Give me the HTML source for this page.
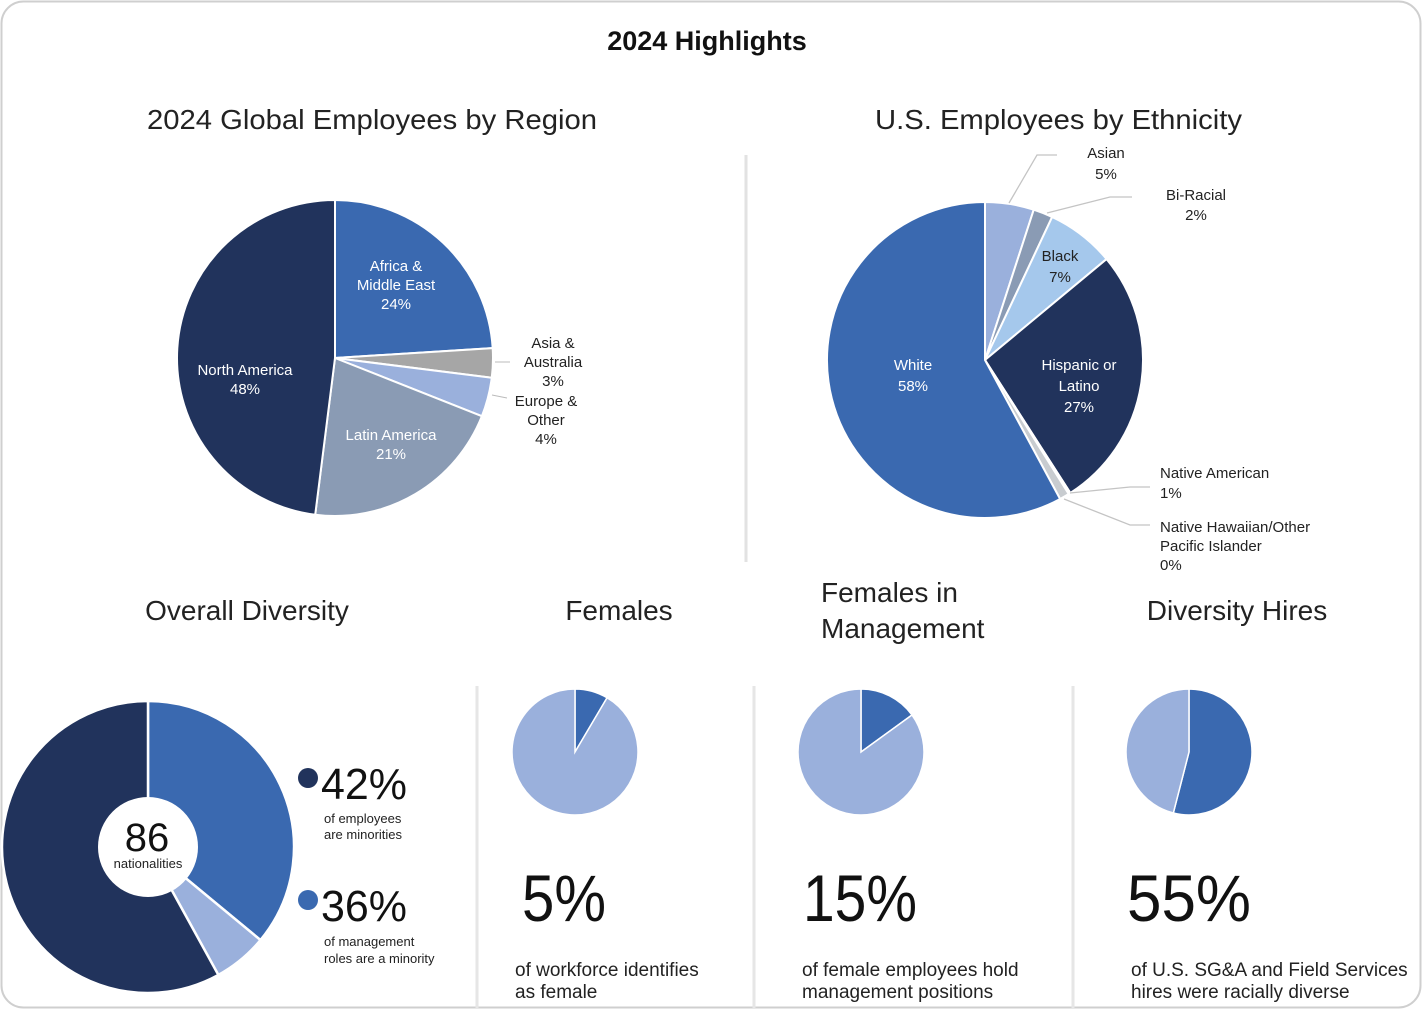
<!DOCTYPE html>
<html><head><meta charset="utf-8"><style>
html,body{margin:0;padding:0;background:#fff}
svg{display:block;font-family:"Liberation Sans",sans-serif}
</style></head><body>
<svg id="s" width="1422" height="1010" viewBox="0 0 1422 1010">
<rect x="1.5" y="1.5" width="1419" height="1006" rx="22" fill="#fff" stroke="#cfcfcf" stroke-width="2"/>
<text x="707" y="50" text-anchor="middle" font-size="27" font-weight="bold" fill="#111">2024 Highlights</text>
<text x="147" y="129" font-size="28" fill="#222" textLength="450" lengthAdjust="spacingAndGlyphs">2024 Global Employees by Region</text>
<text x="875" y="129" font-size="28" fill="#222" textLength="367" lengthAdjust="spacingAndGlyphs">U.S. Employees by Ethnicity</text>
<line x1="746" y1="155" x2="746" y2="562" stroke="#e2e2e2" stroke-width="3"/>
<line x1="477" y1="686" x2="477" y2="1008" stroke="#e6e6e6" stroke-width="3"/>
<line x1="754" y1="686" x2="754" y2="1008" stroke="#e6e6e6" stroke-width="3"/>
<line x1="1073" y1="686" x2="1073" y2="1008" stroke="#e6e6e6" stroke-width="3"/>
<text x="247" y="620" text-anchor="middle" font-size="28" fill="#222">Overall Diversity</text>
<text x="619" y="620" text-anchor="middle" font-size="28" fill="#222">Females</text>
<text x="821" y="602" font-size="28" fill="#222">Females in</text>
<text x="821" y="638" font-size="28" fill="#222">Management</text>
<text x="1237" y="620" text-anchor="middle" font-size="28" fill="#222">Diversity Hires</text>
<g id="g1"></g><g id="g2"></g><g id="g3"></g><g id="g4"></g>
<circle cx="308" cy="778" r="10" fill="#21335c"/>
<text x="321" y="799" font-size="44" fill="#111" textLength="86" lengthAdjust="spacingAndGlyphs">42%</text>
<text x="324" y="823" font-size="13" fill="#222">of employees</text>
<text x="324" y="839" font-size="13" fill="#222">are minorities</text>
<circle cx="308" cy="900" r="10" fill="#3a69b0"/>
<text x="321" y="921" font-size="44" fill="#111" textLength="86" lengthAdjust="spacingAndGlyphs">36%</text>
<text x="324" y="946" font-size="13" fill="#222">of management</text>
<text x="324" y="963" font-size="13" fill="#222">roles are a minority</text>
<text x="522" y="921" font-size="66" fill="#111" textLength="84" lengthAdjust="spacingAndGlyphs">5%</text>
<text x="515" y="976" font-size="19" fill="#222">of workforce identifies</text>
<text x="515" y="998" font-size="19" fill="#222">as female</text>
<text x="803" y="921" font-size="66" fill="#111" textLength="114" lengthAdjust="spacingAndGlyphs">15%</text>
<text x="802" y="976" font-size="19" fill="#222">of female employees hold</text>
<text x="802" y="998" font-size="19" fill="#222">management positions</text>
<text x="1127" y="921" font-size="66" fill="#111" textLength="124" lengthAdjust="spacingAndGlyphs">55%</text>
<text x="1131" y="976" font-size="19" fill="#222">of U.S. SG&amp;A and Field Services</text>
<text x="1131" y="998" font-size="19" fill="#222">hires were racially diverse</text>
</svg>
<script>
const regionCats=["Africa & Middle East","Asia & Australia","Europe & Other","Latin America","North America"];
const regionVals=[24,3,4,21,48];
const ethCats=["Asian","Bi-Racial","Black","Hispanic or Latino","Native Hawaiian/Other Pacific Islander","Native American","White"];
const ethVals=[5,2,7,27,0.2,1,58];
const ethLabels=["5%","2%","7%","27%","0%","1%","58%"];
const diversityCats=["Minority management","Other minority","Non-minority"];
const diversityVals=[36,6,58];
const smallCats=["Females","Females in Management","Diversity Hires"];
const smallVals=[8.5,15,54];

const NS="http://www.w3.org/2000/svg";
function mk(tag,attrs,parent){const e=document.createElementNS(NS,tag);for(const k in attrs)e.setAttribute(k,attrs[k]);parent.appendChild(e);return e;}
function pt(cx,cy,r,a){const t=a/100*2*Math.PI;return [cx+r*Math.sin(t),cy-r*Math.cos(t)];}
function arc(cx,cy,r,a0,a1){const p0=pt(cx,cy,r,a0),p1=pt(cx,cy,r,a1);const lg=(a1-a0)>50?1:0;
 return `M${cx},${cy}L${p0[0]},${p0[1]}A${r},${r} 0 ${lg} 1 ${p1[0]},${p1[1]}Z`;}
function pie(g,cx,cy,r,vals,colors,names,sw){let s=0;const tot=vals.reduce((a,b)=>a+b,0);
 vals.forEach((v,i)=>{const a0=s/tot*100,a1=(s+v)/tot*100;s+=v;
  const p=mk('path',{d:arc(cx,cy,r,a0,a1),fill:colors[i],stroke:'#fff','stroke-width':sw},g);
  
  
 });}
function txt(g,x,y,lines,fill,anchor,name,lh){lh=lh||19;lines.forEach((l,i)=>{const t=mk('text',{x:x,y:y+i*lh,'font-size':15,fill:fill,'text-anchor':anchor||'middle'},g);t.textContent=l;
 
 });}
function slug(s){return s.toLowerCase().replace(/[^a-z0-9]+/g,'-').replace(/-$/,'');}

const g1=document.getElementById('g1');
pie(g1,335,358,158,regionVals,["#3a69b0","#a6a6a6","#9ab0dc","#8a9bb4","#21335c"],regionCats.map(c=>'slice-'+slug(c)),2);
txt(g1,396,271,["Africa &","Middle East",regionVals[0]+"%"],"#fff","middle","label-africa");
txt(g1,553,348,["Asia &","Australia",regionVals[1]+"%"],"#222","middle","label-asia");
txt(g1,546,406,["Europe &","Other",regionVals[2]+"%"],"#222","middle","label-europe");
txt(g1,391,440,["Latin America",regionVals[3]+"%"],"#fff","middle","label-latin-america");
txt(g1,245,375,["North America",regionVals[4]+"%"],"#fff","middle","label-north-america");
mk('line',{x1:495,y1:362,x2:510,y2:362,stroke:'#bbb'},g1);
mk('line',{x1:492,y1:395,x2:507,y2:398,stroke:'#bbb'},g1);

const g2=document.getElementById('g2');
pie(g2,985,360,158,ethVals,["#9ab0dc","#8a9bb4","#a5c8ec","#21335c","#d0d4d8","#c8ccd0","#3a69b0"],ethCats.map(c=>'slice-'+slug(c)),2);
txt(g2,1106,158,["Asian",ethLabels[0]],"#222","middle","label-asian",21);
txt(g2,1196,200,["Bi-Racial",ethLabels[1]],"#222","middle","label-biracial",20);
txt(g2,1060,261,["Black",ethLabels[2]],"#222","middle","label-black",21);
txt(g2,1079,370,["Hispanic or","Latino",ethLabels[3]],"#fff","middle","label-hispanic",21);
txt(g2,913,370,["White",ethLabels[6]],"#fff","middle","label-white",21);
txt(g2,1160,478,["Native American",ethLabels[5]],"#222","start","label-native-american",20);
txt(g2,1160,532,["Native Hawaiian/Other","Pacific Islander",ethLabels[4]],"#222","start","label-native-hawaiian",19);
const L=(pts)=>{mk('polyline',{points:pts,fill:'none',stroke:'#c4c4c4','stroke-width':1.3},g2);};
L("1009,203 1037,155 1057,155");L("1047,213 1110,197 1132,197");L("1070,493 1130,487 1150,487");L("1064,499 1130,525 1150,525");

const g3=document.getElementById('g3');
pie(g3,148,847,146,diversityVals,["#3a69b0","#9ab0dc","#21335c"],diversityCats.map(c=>'donut-'+slug(c)),2.5);
mk('circle',{cx:148,cy:847,r:50,fill:'#fff'},g3);
const n1=mk('text',{x:147,y:851,'font-size':40,'text-anchor':'middle',fill:'#111'},g3);n1.textContent="86";


const n2=mk('text',{x:148,y:868,'font-size':13,'text-anchor':'middle',fill:'#222'},g3);n2.textContent="nationalities";



const g4=document.getElementById('g4');
const cxs=[575,861,1189];
smallVals.forEach((v,i)=>{pie(g4,cxs[i],752,63,[v,100-v],["#3a69b0","#9ab0dc"],['mini-pie-'+slug(smallCats[i])+'-share','mini-pie-'+slug(smallCats[i])+'-rest'],1.5);});
</script>
</body></html>
